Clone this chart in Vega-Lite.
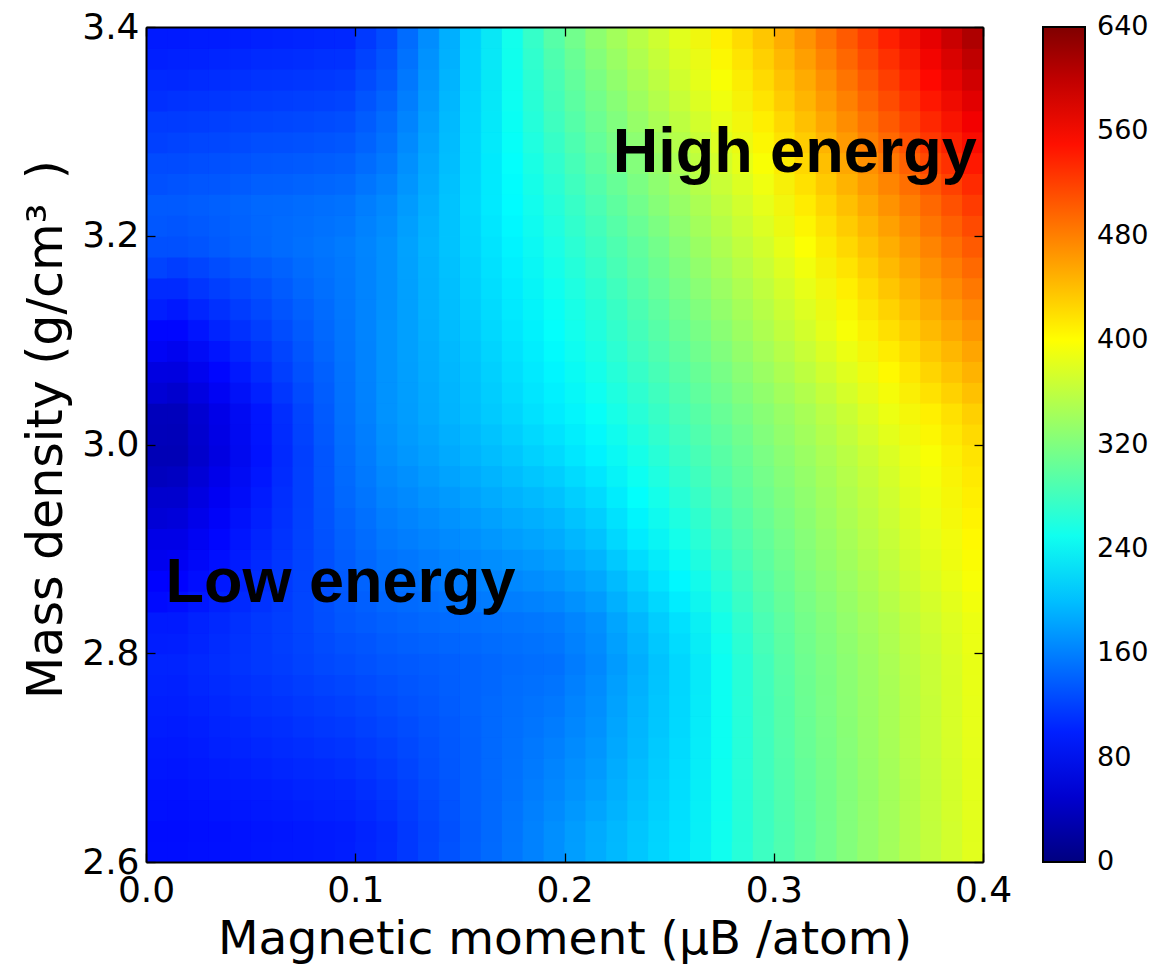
{
"$schema": "https://vega.github.io/schema/vega-lite/v6.json",
"width": 837, "height": 835,
"autosize": {"type": "none"},
"padding": {"left": 146, "top": 27, "right": 168, "bottom": 106},
"background": "white",
"config": {
  "font": "DejaVu Sans",
  "view": {"stroke": null},
  "axis": {"domain": true, "domainColor": "black", "domainWidth": 2, "grid": false, "ticks": true, "tickSize": -9, "tickColor": "black", "tickWidth": 1.3, "labelFlush": false,
    "labelFont": "DejaVu Sans", "labelFontSize": 36, "labelColor": "black",
    "titleFont": "DejaVu Sans", "titleFontSize": 47, "titleFontWeight": "normal", "titleColor": "black"}
},
"datasets": {"cells": [
{"m":0.01,"d":2.62,"e":88},{"m":0.03,"d":2.62,"e":90},{"m":0.05,"d":2.62,"e":93},{"m":0.07,"d":2.62,"e":95},{"m":0.09,"d":2.62,"e":98},{"m":0.11,"d":2.62,"e":107},{"m":0.13,"d":2.62,"e":123},{"m":0.15,"d":2.62,"e":139},{"m":0.17,"d":2.62,"e":154},{"m":0.19,"d":2.62,"e":170},{"m":0.21,"d":2.62,"e":188},{"m":0.23,"d":2.62,"e":205},{"m":0.25,"d":2.62,"e":222},{"m":0.27,"d":2.62,"e":250},{"m":0.29,"d":2.62,"e":278},{"m":0.31,"d":2.62,"e":301},{"m":0.33,"d":2.62,"e":322},{"m":0.35,"d":2.62,"e":342},{"m":0.37,"d":2.62,"e":362},{"m":0.39,"d":2.62,"e":382},
{"m":0.01,"d":2.66,"e":91},{"m":0.03,"d":2.66,"e":95},{"m":0.05,"d":2.66,"e":98},{"m":0.07,"d":2.66,"e":102},{"m":0.09,"d":2.66,"e":105},{"m":0.11,"d":2.66,"e":114},{"m":0.13,"d":2.66,"e":127},{"m":0.15,"d":2.66,"e":140},{"m":0.17,"d":2.66,"e":152},{"m":0.19,"d":2.66,"e":165},{"m":0.21,"d":2.66,"e":180},{"m":0.23,"d":2.66,"e":200},{"m":0.25,"d":2.66,"e":220},{"m":0.27,"d":2.66,"e":249},{"m":0.29,"d":2.66,"e":279},{"m":0.31,"d":2.66,"e":303},{"m":0.33,"d":2.66,"e":323},{"m":0.35,"d":2.66,"e":343},{"m":0.37,"d":2.66,"e":363},{"m":0.39,"d":2.66,"e":383},
{"m":0.01,"d":2.70,"e":95},{"m":0.03,"d":2.70,"e":100},{"m":0.05,"d":2.70,"e":104},{"m":0.07,"d":2.70,"e":109},{"m":0.09,"d":2.70,"e":113},{"m":0.11,"d":2.70,"e":121},{"m":0.13,"d":2.70,"e":131},{"m":0.15,"d":2.70,"e":141},{"m":0.17,"d":2.70,"e":151},{"m":0.19,"d":2.70,"e":161},{"m":0.21,"d":2.70,"e":175},{"m":0.23,"d":2.70,"e":196},{"m":0.25,"d":2.70,"e":218},{"m":0.27,"d":2.70,"e":248},{"m":0.29,"d":2.70,"e":280},{"m":0.31,"d":2.70,"e":305},{"m":0.33,"d":2.70,"e":325},{"m":0.35,"d":2.70,"e":345},{"m":0.37,"d":2.70,"e":364},{"m":0.39,"d":2.70,"e":384},
{"m":0.01,"d":2.74,"e":99},{"m":0.03,"d":2.74,"e":104},{"m":0.05,"d":2.74,"e":110},{"m":0.07,"d":2.74,"e":115},{"m":0.09,"d":2.74,"e":121},{"m":0.11,"d":2.74,"e":127},{"m":0.13,"d":2.74,"e":134},{"m":0.15,"d":2.74,"e":142},{"m":0.17,"d":2.74,"e":149},{"m":0.19,"d":2.74,"e":156},{"m":0.21,"d":2.74,"e":170},{"m":0.23,"d":2.74,"e":193},{"m":0.25,"d":2.74,"e":216},{"m":0.27,"d":2.74,"e":248},{"m":0.29,"d":2.74,"e":281},{"m":0.31,"d":2.74,"e":307},{"m":0.33,"d":2.74,"e":327},{"m":0.35,"d":2.74,"e":346},{"m":0.37,"d":2.74,"e":365},{"m":0.39,"d":2.74,"e":385},
{"m":0.01,"d":2.78,"e":102},{"m":0.03,"d":2.78,"e":109},{"m":0.05,"d":2.78,"e":115},{"m":0.07,"d":2.78,"e":122},{"m":0.09,"d":2.78,"e":128},{"m":0.11,"d":2.78,"e":134},{"m":0.13,"d":2.78,"e":138},{"m":0.15,"d":2.78,"e":143},{"m":0.17,"d":2.78,"e":147},{"m":0.19,"d":2.78,"e":151},{"m":0.21,"d":2.78,"e":166},{"m":0.23,"d":2.78,"e":190},{"m":0.25,"d":2.78,"e":215},{"m":0.27,"d":2.78,"e":248},{"m":0.29,"d":2.78,"e":282},{"m":0.31,"d":2.78,"e":309},{"m":0.33,"d":2.78,"e":328},{"m":0.35,"d":2.78,"e":347},{"m":0.37,"d":2.78,"e":366},{"m":0.39,"d":2.78,"e":386},
{"m":0.01,"d":2.82,"e":96},{"m":0.03,"d":2.82,"e":106},{"m":0.05,"d":2.82,"e":115},{"m":0.07,"d":2.82,"e":124},{"m":0.09,"d":2.82,"e":134},{"m":0.11,"d":2.82,"e":141},{"m":0.13,"d":2.82,"e":145},{"m":0.15,"d":2.82,"e":149},{"m":0.17,"d":2.82,"e":153},{"m":0.19,"d":2.82,"e":157},{"m":0.21,"d":2.82,"e":171},{"m":0.23,"d":2.82,"e":196},{"m":0.25,"d":2.82,"e":222},{"m":0.27,"d":2.82,"e":254},{"m":0.29,"d":2.82,"e":287},{"m":0.31,"d":2.82,"e":313},{"m":0.33,"d":2.82,"e":332},{"m":0.35,"d":2.82,"e":351},{"m":0.37,"d":2.82,"e":370},{"m":0.39,"d":2.82,"e":389},
{"m":0.01,"d":2.86,"e":81},{"m":0.03,"d":2.86,"e":95},{"m":0.05,"d":2.86,"e":109},{"m":0.07,"d":2.86,"e":123},{"m":0.09,"d":2.86,"e":137},{"m":0.11,"d":2.86,"e":148},{"m":0.13,"d":2.86,"e":154},{"m":0.15,"d":2.86,"e":160},{"m":0.17,"d":2.86,"e":166},{"m":0.19,"d":2.86,"e":172},{"m":0.21,"d":2.86,"e":186},{"m":0.23,"d":2.86,"e":210},{"m":0.25,"d":2.86,"e":236},{"m":0.27,"d":2.86,"e":265},{"m":0.29,"d":2.86,"e":295},{"m":0.31,"d":2.86,"e":319},{"m":0.33,"d":2.86,"e":338},{"m":0.35,"d":2.86,"e":358},{"m":0.37,"d":2.86,"e":377},{"m":0.39,"d":2.86,"e":396},
{"m":0.01,"d":2.90,"e":65},{"m":0.03,"d":2.90,"e":84},{"m":0.05,"d":2.90,"e":103},{"m":0.07,"d":2.90,"e":122},{"m":0.09,"d":2.90,"e":141},{"m":0.11,"d":2.90,"e":155},{"m":0.13,"d":2.90,"e":163},{"m":0.15,"d":2.90,"e":171},{"m":0.17,"d":2.90,"e":179},{"m":0.19,"d":2.90,"e":187},{"m":0.21,"d":2.90,"e":203},{"m":0.23,"d":2.90,"e":228},{"m":0.25,"d":2.90,"e":253},{"m":0.27,"d":2.90,"e":278},{"m":0.29,"d":2.90,"e":303},{"m":0.31,"d":2.90,"e":325},{"m":0.33,"d":2.90,"e":345},{"m":0.35,"d":2.90,"e":364},{"m":0.37,"d":2.90,"e":384},{"m":0.39,"d":2.90,"e":403},
{"m":0.01,"d":2.94,"e":49},{"m":0.03,"d":2.94,"e":73},{"m":0.05,"d":2.94,"e":97},{"m":0.07,"d":2.94,"e":121},{"m":0.09,"d":2.94,"e":145},{"m":0.11,"d":2.94,"e":162},{"m":0.13,"d":2.94,"e":172},{"m":0.15,"d":2.94,"e":182},{"m":0.17,"d":2.94,"e":192},{"m":0.19,"d":2.94,"e":202},{"m":0.21,"d":2.94,"e":218},{"m":0.23,"d":2.94,"e":241},{"m":0.25,"d":2.94,"e":264},{"m":0.27,"d":2.94,"e":287},{"m":0.29,"d":2.94,"e":310},{"m":0.31,"d":2.94,"e":331},{"m":0.33,"d":2.94,"e":351},{"m":0.35,"d":2.94,"e":370},{"m":0.37,"d":2.94,"e":390},{"m":0.39,"d":2.94,"e":410},
{"m":0.01,"d":2.98,"e":34},{"m":0.03,"d":2.98,"e":62},{"m":0.05,"d":2.98,"e":91},{"m":0.07,"d":2.98,"e":120},{"m":0.09,"d":2.98,"e":148},{"m":0.11,"d":2.98,"e":169},{"m":0.13,"d":2.98,"e":181},{"m":0.15,"d":2.98,"e":193},{"m":0.17,"d":2.98,"e":205},{"m":0.19,"d":2.98,"e":217},{"m":0.21,"d":2.98,"e":233},{"m":0.23,"d":2.98,"e":254},{"m":0.25,"d":2.98,"e":275},{"m":0.27,"d":2.98,"e":296},{"m":0.29,"d":2.98,"e":317},{"m":0.31,"d":2.98,"e":337},{"m":0.33,"d":2.98,"e":357},{"m":0.35,"d":2.98,"e":377},{"m":0.37,"d":2.98,"e":397},{"m":0.39,"d":2.98,"e":417},
{"m":0.01,"d":3.02,"e":38},{"m":0.03,"d":3.02,"e":66},{"m":0.05,"d":3.02,"e":94},{"m":0.07,"d":3.02,"e":123},{"m":0.09,"d":3.02,"e":151},{"m":0.11,"d":3.02,"e":172},{"m":0.13,"d":3.02,"e":186},{"m":0.15,"d":3.02,"e":200},{"m":0.17,"d":3.02,"e":214},{"m":0.19,"d":3.02,"e":228},{"m":0.21,"d":3.02,"e":244},{"m":0.23,"d":3.02,"e":265},{"m":0.25,"d":3.02,"e":285},{"m":0.27,"d":3.02,"e":305},{"m":0.29,"d":3.02,"e":326},{"m":0.31,"d":3.02,"e":346},{"m":0.33,"d":3.02,"e":367},{"m":0.35,"d":3.02,"e":388},{"m":0.37,"d":3.02,"e":409},{"m":0.39,"d":3.02,"e":429},
{"m":0.01,"d":3.06,"e":61},{"m":0.03,"d":3.06,"e":84},{"m":0.05,"d":3.06,"e":107},{"m":0.07,"d":3.06,"e":130},{"m":0.09,"d":3.06,"e":152},{"m":0.11,"d":3.06,"e":172},{"m":0.13,"d":3.06,"e":187},{"m":0.15,"d":3.06,"e":203},{"m":0.17,"d":3.06,"e":219},{"m":0.19,"d":3.06,"e":235},{"m":0.21,"d":3.06,"e":253},{"m":0.23,"d":3.06,"e":274},{"m":0.25,"d":3.06,"e":295},{"m":0.27,"d":3.06,"e":316},{"m":0.29,"d":3.06,"e":337},{"m":0.31,"d":3.06,"e":359},{"m":0.33,"d":3.06,"e":381},{"m":0.35,"d":3.06,"e":403},{"m":0.37,"d":3.06,"e":426},{"m":0.39,"d":3.06,"e":448},
{"m":0.01,"d":3.10,"e":84},{"m":0.03,"d":3.10,"e":102},{"m":0.05,"d":3.10,"e":119},{"m":0.07,"d":3.10,"e":137},{"m":0.09,"d":3.10,"e":154},{"m":0.11,"d":3.10,"e":172},{"m":0.13,"d":3.10,"e":189},{"m":0.15,"d":3.10,"e":207},{"m":0.17,"d":3.10,"e":224},{"m":0.19,"d":3.10,"e":242},{"m":0.21,"d":3.10,"e":261},{"m":0.23,"d":3.10,"e":283},{"m":0.25,"d":3.10,"e":305},{"m":0.27,"d":3.10,"e":327},{"m":0.29,"d":3.10,"e":349},{"m":0.31,"d":3.10,"e":372},{"m":0.33,"d":3.10,"e":396},{"m":0.35,"d":3.10,"e":419},{"m":0.37,"d":3.10,"e":443},{"m":0.39,"d":3.10,"e":466},
{"m":0.01,"d":3.14,"e":107},{"m":0.03,"d":3.14,"e":119},{"m":0.05,"d":3.14,"e":131},{"m":0.07,"d":3.14,"e":144},{"m":0.09,"d":3.14,"e":156},{"m":0.11,"d":3.14,"e":171},{"m":0.13,"d":3.14,"e":191},{"m":0.15,"d":3.14,"e":210},{"m":0.17,"d":3.14,"e":229},{"m":0.19,"d":3.14,"e":249},{"m":0.21,"d":3.14,"e":269},{"m":0.23,"d":3.14,"e":292},{"m":0.25,"d":3.14,"e":315},{"m":0.27,"d":3.14,"e":338},{"m":0.29,"d":3.14,"e":361},{"m":0.31,"d":3.14,"e":385},{"m":0.33,"d":3.14,"e":410},{"m":0.35,"d":3.14,"e":435},{"m":0.37,"d":3.14,"e":460},{"m":0.39,"d":3.14,"e":484},
{"m":0.01,"d":3.18,"e":130},{"m":0.03,"d":3.18,"e":137},{"m":0.05,"d":3.18,"e":144},{"m":0.07,"d":3.18,"e":151},{"m":0.09,"d":3.18,"e":157},{"m":0.11,"d":3.18,"e":171},{"m":0.13,"d":3.18,"e":192},{"m":0.15,"d":3.18,"e":213},{"m":0.17,"d":3.18,"e":234},{"m":0.19,"d":3.18,"e":256},{"m":0.21,"d":3.18,"e":278},{"m":0.23,"d":3.18,"e":301},{"m":0.25,"d":3.18,"e":325},{"m":0.27,"d":3.18,"e":349},{"m":0.29,"d":3.18,"e":372},{"m":0.31,"d":3.18,"e":398},{"m":0.33,"d":3.18,"e":424},{"m":0.35,"d":3.18,"e":450},{"m":0.37,"d":3.18,"e":477},{"m":0.39,"d":3.18,"e":503},
{"m":0.01,"d":3.22,"e":137},{"m":0.03,"d":3.22,"e":141},{"m":0.05,"d":3.22,"e":145},{"m":0.07,"d":3.22,"e":148},{"m":0.09,"d":3.22,"e":152},{"m":0.11,"d":3.22,"e":166},{"m":0.13,"d":3.22,"e":190},{"m":0.15,"d":3.22,"e":215},{"m":0.17,"d":3.22,"e":239},{"m":0.19,"d":3.22,"e":263},{"m":0.21,"d":3.22,"e":287},{"m":0.23,"d":3.22,"e":312},{"m":0.25,"d":3.22,"e":336},{"m":0.27,"d":3.22,"e":360},{"m":0.29,"d":3.22,"e":384},{"m":0.31,"d":3.22,"e":411},{"m":0.33,"d":3.22,"e":439},{"m":0.35,"d":3.22,"e":467},{"m":0.37,"d":3.22,"e":495},{"m":0.39,"d":3.22,"e":523},
{"m":0.01,"d":3.26,"e":127},{"m":0.03,"d":3.26,"e":130},{"m":0.05,"d":3.26,"e":134},{"m":0.07,"d":3.26,"e":137},{"m":0.09,"d":3.26,"e":140},{"m":0.11,"d":3.26,"e":156},{"m":0.13,"d":3.26,"e":185},{"m":0.15,"d":3.26,"e":214},{"m":0.17,"d":3.26,"e":242},{"m":0.19,"d":3.26,"e":271},{"m":0.21,"d":3.26,"e":298},{"m":0.23,"d":3.26,"e":323},{"m":0.25,"d":3.26,"e":347},{"m":0.27,"d":3.26,"e":372},{"m":0.29,"d":3.26,"e":397},{"m":0.31,"d":3.26,"e":425},{"m":0.33,"d":3.26,"e":455},{"m":0.35,"d":3.26,"e":485},{"m":0.37,"d":3.26,"e":515},{"m":0.39,"d":3.26,"e":545},
{"m":0.01,"d":3.30,"e":117},{"m":0.03,"d":3.30,"e":120},{"m":0.05,"d":3.30,"e":123},{"m":0.07,"d":3.30,"e":126},{"m":0.09,"d":3.30,"e":129},{"m":0.11,"d":3.30,"e":147},{"m":0.13,"d":3.30,"e":180},{"m":0.15,"d":3.30,"e":213},{"m":0.17,"d":3.30,"e":246},{"m":0.19,"d":3.30,"e":279},{"m":0.21,"d":3.30,"e":308},{"m":0.23,"d":3.30,"e":334},{"m":0.25,"d":3.30,"e":359},{"m":0.27,"d":3.30,"e":385},{"m":0.29,"d":3.30,"e":410},{"m":0.31,"d":3.30,"e":439},{"m":0.33,"d":3.30,"e":471},{"m":0.35,"d":3.30,"e":503},{"m":0.37,"d":3.30,"e":535},{"m":0.39,"d":3.30,"e":567},
{"m":0.01,"d":3.34,"e":106},{"m":0.03,"d":3.34,"e":109},{"m":0.05,"d":3.34,"e":112},{"m":0.07,"d":3.34,"e":114},{"m":0.09,"d":3.34,"e":117},{"m":0.11,"d":3.34,"e":137},{"m":0.13,"d":3.34,"e":174},{"m":0.15,"d":3.34,"e":212},{"m":0.17,"d":3.34,"e":249},{"m":0.19,"d":3.34,"e":286},{"m":0.21,"d":3.34,"e":318},{"m":0.23,"d":3.34,"e":345},{"m":0.25,"d":3.34,"e":371},{"m":0.27,"d":3.34,"e":397},{"m":0.29,"d":3.34,"e":423},{"m":0.31,"d":3.34,"e":453},{"m":0.33,"d":3.34,"e":487},{"m":0.35,"d":3.34,"e":521},{"m":0.37,"d":3.34,"e":555},{"m":0.39,"d":3.34,"e":589},
{"m":0.01,"d":3.38,"e":96},{"m":0.03,"d":3.38,"e":98},{"m":0.05,"d":3.38,"e":101},{"m":0.07,"d":3.38,"e":103},{"m":0.09,"d":3.38,"e":105},{"m":0.11,"d":3.38,"e":127},{"m":0.13,"d":3.38,"e":169},{"m":0.15,"d":3.38,"e":211},{"m":0.17,"d":3.38,"e":252},{"m":0.19,"d":3.38,"e":294},{"m":0.21,"d":3.38,"e":329},{"m":0.23,"d":3.38,"e":356},{"m":0.25,"d":3.38,"e":382},{"m":0.27,"d":3.38,"e":409},{"m":0.29,"d":3.38,"e":436},{"m":0.31,"d":3.38,"e":467},{"m":0.33,"d":3.38,"e":503},{"m":0.35,"d":3.38,"e":539},{"m":0.37,"d":3.38,"e":575},{"m":0.39,"d":3.38,"e":611}
]},
"layer": [
{
"data": {"name": "cells"},
"mark": {"type": "rect", "clip": true, "xOffset": 0.6, "x2Offset": -0.6, "yOffset": -0.6, "y2Offset": 0.6},
"encoding": {
  "x": {"field": "m", "type": "quantitative", "bin": {"step": 0.02, "extent": [0, 0.4], "nice": false},
        "scale": {"domain": [0, 0.4], "nice": false, "zero": false},
        "axis": {"orient": "bottom", "zindex": 2, "values": [0, 0.1, 0.2, 0.3, 0.4], "format": ".1f", "labelPadding": 20, "titlePadding": 8, "title": "Magnetic moment (μB /atom)"}},
  "y": {"field": "d", "type": "quantitative", "bin": {"step": 0.04, "extent": [2.6, 3.4], "nice": false},
        "scale": {"domain": [2.6, 3.4], "nice": false, "zero": false},
        "axis": {"orient": "left", "zindex": 2, "values": [2.6, 2.8, 3.0, 3.2, 3.4], "format": ".1f", "labelPadding": 16, "titlePadding": 10, "titleFontSize": 49, "titleY": 402, "title": "Mass density (g/cm³\u2002)"}},
  "fill": {"field": "e", "type": "quantitative",
        "scale": {"domain": [0, 80, 240, 400, 560, 640], "range": ["#000080", "#0000ff", "#00ffff", "#ffff00", "#ff0000", "#800000"], "interpolate": "rgb"},
        "legend": {"type": "gradient", "title": null, "orient": "none", "legendX": 897, "legendY": 0, "direction": "vertical", "gradientLength": 835, "gradientThickness": 42,
          "values": [0, 80, 160, 240, 320, 400, 480, 560, 640], "labelFontSize": 27, "labelFont": "DejaVu Sans", "labelColor": "black",
          "labelOffset": 12, "labelBaseline": "middle", "labelOverlap": false, "gradientStrokeColor": "black", "gradientStrokeWidth": 2, "padding": 0,
          "encode": {"labels": {"update": {"baseline": {"value": "middle"}}}}}}
}
},
{
"data": {"name": "cells"},
"mark": {"type": "rect", "fillOpacity": 0.5, "clip": true},
"encoding": {
  "x": {"field": "m", "type": "quantitative", "bin": {"step": 0.02, "anchor": 0.0098, "extent": [-0.0102, 0.4098], "nice": false}, "axis": null},
  "y": {"field": "d", "type": "quantitative", "bin": {"step": 0.04, "extent": [2.6, 3.4], "nice": false}, "axis": null},
  "fill": {"field": "e", "type": "quantitative"}
}
},
{
"data": {"name": "cells"},
"mark": {"type": "rect", "fillOpacity": 0.3333, "clip": true},
"encoding": {
  "x": {"field": "m", "type": "quantitative", "bin": {"step": 0.02, "extent": [0, 0.4], "nice": false}, "axis": null},
  "y": {"field": "d", "type": "quantitative", "bin": {"step": 0.04, "anchor": 2.6196, "extent": [2.5796, 3.4196], "nice": false}, "axis": null},
  "fill": {"field": "e", "type": "quantitative"}
}
},
{
"data": {"name": "cells"},
"mark": {"type": "rect", "fillOpacity": 0.25, "clip": true},
"encoding": {
  "x": {"field": "m", "type": "quantitative", "bin": {"step": 0.02, "anchor": 0.0098, "extent": [-0.0102, 0.4098], "nice": false}, "axis": null},
  "y": {"field": "d", "type": "quantitative", "bin": {"step": 0.04, "anchor": 2.6196, "extent": [2.5796, 3.4196], "nice": false}, "axis": null},
  "fill": {"field": "e", "type": "quantitative"}
}
},
{
"data": {"values": [{"m": 0.0093, "d": 2.849, "label": "Low energy"}]},
"mark": {"type": "text", "align": "left", "baseline": "alphabetic", "font": "Liberation Sans", "fontWeight": "bold", "fontSize": 63, "color": "black"},
"encoding": {
  "x": {"field": "m", "type": "quantitative", "axis": {"orient": "top", "zindex": 2, "labels": false, "title": null, "values": [0, 0.1, 0.2, 0.3, 0.4]}},
  "y": {"field": "d", "type": "quantitative", "axis": {"orient": "right", "zindex": 2, "labels": false, "title": null, "values": [2.6, 2.8, 3.0, 3.2, 3.4]}},
  "text": {"field": "label"}
}
},
{
"data": {"values": [{"m": 0.397, "d": 3.261, "label": "High energy"}]},
"mark": {"type": "text", "align": "right", "baseline": "alphabetic", "font": "Liberation Sans", "fontWeight": "bold", "fontSize": 63, "color": "black"},
"encoding": {
  "x": {"field": "m", "type": "quantitative", "axis": null},
  "y": {"field": "d", "type": "quantitative", "axis": null},
  "text": {"field": "label"}
}
}
],
"resolve": {"axis": {"x": "independent", "y": "independent"}}
}
